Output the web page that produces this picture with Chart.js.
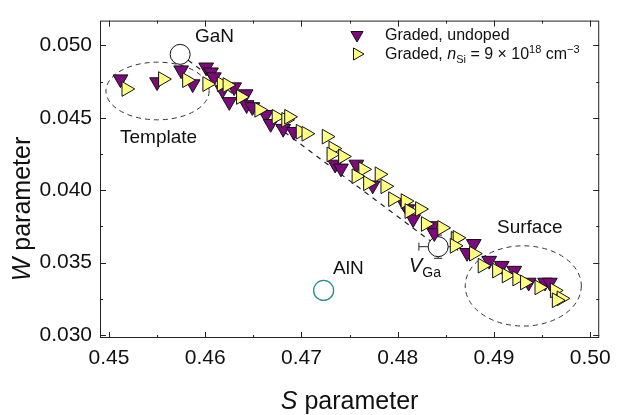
<!DOCTYPE html>
<html>
<head>
<meta charset="utf-8">
<script src="https://cdn.jsdelivr.net/npm/chart.js@4.4.1/dist/chart.umd.min.js"></script>
<style>
  html, body { margin: 0; padding: 0; background: #fff; }
  canvas { display: block; }
</style>
</head>
<body>
<canvas id="chart" width="619" height="415"></canvas>
<script>
// ========== DATA ==========
const undopedS = [0.4512, 0.4550, 0.4575, 0.4587, 0.4601, 0.4606, 0.4609, 0.4618, 0.4630, 0.4625,
  0.4642, 0.4643, 0.4649, 0.4663, 0.4668, 0.4681, 0.4692, 0.4735, 0.4741, 0.4757,
  0.4774, 0.4807, 0.4810, 0.4816, 0.4836, 0.4838, 0.4872, 0.4879, 0.4895, 0.4908,
  0.4921, 0.4936, 0.4953, 0.4958];
const undopedW = [0.04767, 0.04747, 0.04829, 0.04733, 0.04849, 0.04815, 0.04781, 0.04692, 0.04712, 0.04610,
  0.04664, 0.04589, 0.04575, 0.04521, 0.04459, 0.04425, 0.04404, 0.04178, 0.04151, 0.04178,
  0.04034, 0.03904, 0.03870, 0.03801, 0.03753, 0.03705, 0.03568, 0.03630, 0.03514, 0.03479,
  0.03445, 0.03363, 0.03363, 0.03363];

const dopedS = [0.4518, 0.4556, 0.4581, 0.4602, 0.4617, 0.4623, 0.4637, 0.4656, 0.4674, 0.4684,
  0.4687, 0.4699, 0.4705, 0.4726, 0.4733, 0.4731, 0.4743, 0.4764, 0.4757, 0.4769,
  0.4781, 0.4787, 0.4795, 0.4808, 0.4812, 0.4823, 0.4829, 0.4846, 0.4860, 0.4862,
  0.4859, 0.4879, 0.4888, 0.4903, 0.4913, 0.4924, 0.4932, 0.4947, 0.4963, 0.4970,
  0.4965];
const dopedW = [0.04699, 0.04767, 0.04760, 0.04733, 0.04733, 0.04726, 0.04644, 0.04555, 0.04507, 0.04486,
  0.04507, 0.04404, 0.04390, 0.04370, 0.04288, 0.04247, 0.04233, 0.04144, 0.04096, 0.04048,
  0.04110, 0.04027, 0.03938, 0.03925, 0.03856, 0.03870, 0.03767, 0.03740, 0.03664, 0.03671,
  0.03616, 0.03562, 0.03479, 0.03445, 0.03411, 0.03390, 0.03363, 0.03329, 0.03308, 0.03253,
  0.03240];

// reference points: GaN, V_Ga
const refS = [0.4574, 0.4842];
const refW = [0.04938, 0.0361];
const vgaErrS = 0.002;
const vgaErrW = 0.0008;
const alnS = [0.4723];
const alnW = [0.03308];

// dashed ellipses: [centreS, centreW, radiusS, radiusW]
const templateEllipse = [0.45505, 0.04685, 0.00536, 0.00199];
const surfaceEllipse = [0.49304, 0.03339, 0.00603, 0.00277];

const xTicks = [0.45, 0.46, 0.47, 0.48, 0.49, 0.50];
const xMinor = [0.455, 0.465, 0.475, 0.485, 0.495];
const yTicks = [0.030, 0.035, 0.040, 0.045, 0.050];
const yMinor = [0.0325, 0.0375, 0.0425, 0.0475];

const FONT = "'Liberation Sans', Arial, Helvetica, sans-serif";
const PURPLE = '#7d0a7d';
const YELLOW = '#ffff80';

const toXY = (xs, ys) => xs.map((v, i) => ({ x: v, y: ys[i] }));

// draw text made of runs (italic, sub/superscripts)
function drawRuns(ctx, x, y, runs) {
  let cx = x;
  runs.forEach(r => {
    ctx.font = `${r.style || 'normal'} ${r.size}px ${FONT}`;
    ctx.fillText(r.t, cx, y + (r.dy || 0));
    cx += ctx.measureText(r.t).width;
  });
}

function drawTri(ctx, x, y, r, rot, fill) {
  ctx.beginPath();
  let rad = rot * Math.PI / 180;
  for (let i = 0; i < 3; i++) {
    const px = x + Math.sin(rad) * r, py = y - Math.cos(rad) * r;
    i ? ctx.lineTo(px, py) : ctx.moveTo(px, py);
    rad += 2 * Math.PI / 3;
  }
  ctx.closePath();
  ctx.fillStyle = fill;
  ctx.fill();
  ctx.strokeStyle = '#111';
  ctx.lineWidth = 1;
  ctx.stroke();
}

const decor = {
  id: 'decor',
  beforeDatasetsDraw(chart) {
    const { ctx, scales: { x, y } } = chart;
    ctx.save();
    // ellipses
    ctx.strokeStyle = '#333';
    ctx.lineWidth = 1;
    ctx.setLineDash([5, 4]);
    [templateEllipse, surfaceEllipse].forEach(e => {
      const cx = x.getPixelForValue(e[0]), cy = y.getPixelForValue(e[1]);
      const rx = Math.abs(x.getPixelForValue(e[0] + e[2]) - cx);
      const ry = Math.abs(y.getPixelForValue(e[1] + e[3]) - cy);
      ctx.beginPath();
      ctx.ellipse(cx, cy, rx, ry, 0, 0, 2 * Math.PI);
      ctx.stroke();
    });
    ctx.setLineDash([]);
    // V_Ga error bars
    const vx = x.getPixelForValue(refS[1]), vy = y.getPixelForValue(refW[1]);
    const l = x.getPixelForValue(refS[1] - vgaErrS), r = x.getPixelForValue(refS[1] + vgaErrS);
    const t = y.getPixelForValue(refW[1] + vgaErrW), b = y.getPixelForValue(refW[1] - vgaErrW);
    ctx.strokeStyle = '#222';
    ctx.beginPath();
    ctx.moveTo(l, vy); ctx.lineTo(r, vy);
    ctx.moveTo(l, vy - 4); ctx.lineTo(l, vy + 4);
    ctx.moveTo(r, vy - 4); ctx.lineTo(r, vy + 4);
    ctx.moveTo(vx, t); ctx.lineTo(vx, b);
    ctx.moveTo(vx - 4, t); ctx.lineTo(vx + 4, t);
    ctx.moveTo(vx - 4, b); ctx.lineTo(vx + 4, b);
    ctx.stroke();
    ctx.restore();
  },
  afterDraw(chart) {
    const { ctx, chartArea: a, scales: { x, y } } = chart;
    ctx.save();
    // frame and inward ticks on all sides
    ctx.strokeStyle = '#222';
    ctx.lineWidth = 1;
    ctx.strokeRect(a.left + 0.5, a.top + 0.5, a.width - 1, a.height - 1);
    ctx.beginPath();
    const xt = (vals, len) => vals.forEach(v => {
      const px = Math.round(x.getPixelForValue(v)) + 0.5;
      ctx.moveTo(px, a.bottom); ctx.lineTo(px, a.bottom - len);
      ctx.moveTo(px, a.top); ctx.lineTo(px, a.top + len);
    });
    const yt = (vals, len) => vals.forEach(v => {
      const py = Math.round(y.getPixelForValue(v)) + 0.5;
      ctx.moveTo(a.left, py); ctx.lineTo(a.left + len, py);
      ctx.moveTo(a.right, py); ctx.lineTo(a.right - len, py);
    });
    xt(xTicks, 6); xt(xMinor, 3); yt(yTicks, 6); yt(yMinor, 3);
    ctx.stroke();

    ctx.fillStyle = '#111';
    ctx.textBaseline = 'alphabetic';
    // axis titles
    ctx.font = `italic 25px ${FONT}`;
    const sW = ctx.measureText('S').width;
    ctx.font = `25px ${FONT}`;
    const pW = ctx.measureText(' parameter').width;
    const xc = (a.left + a.right) / 2;
    drawRuns(ctx, xc - (sW + pW) / 2, 409, [
      { t: 'S', size: 25, style: 'italic' }, { t: ' parameter', size: 25 }]);
    ctx.save();
    ctx.translate(30, 209);
    ctx.rotate(-Math.PI / 2);
    ctx.font = `italic 25px ${FONT}`;
    const wW = ctx.measureText('W').width;
    drawRuns(ctx, -(wW + pW) / 2, 0, [
      { t: 'W', size: 25, style: 'italic' }, { t: ' parameter', size: 25 }]);
    ctx.restore();

    // annotations
    ctx.font = `19px ${FONT}`;
    ctx.fillText('GaN', 195, 42);
    ctx.fillText('Template', 120, 143);
    ctx.fillText('Surface', 497, 233);
    ctx.fillText('AlN', 333, 274);
    drawRuns(ctx, 409, 272, [
      { t: 'V', size: 20, style: 'italic' }, { t: 'Ga', size: 14, dy: 5 }]);

    // legend
    drawTri(ctx, 357, 35, 7, 180, PURPLE);
    drawTri(ctx, 357, 54, 7, 90, YELLOW);
    ctx.fillStyle = '#111';
    drawRuns(ctx, 385, 40, [{ t: 'Graded, undoped', size: 16 }]);
    drawRuns(ctx, 385, 59, [
      { t: 'Graded, ', size: 16 },
      { t: 'n', size: 16, style: 'italic' },
      { t: 'Si', size: 11, dy: 4 },
      { t: ' = 9 \u00d7 10', size: 16 },
      { t: '18', size: 11, dy: -6 },
      { t: ' cm', size: 16 },
      { t: '\u22123', size: 11, dy: -6 }]);
    ctx.restore();
  }
};

// ========== CHART ==========
new Chart(document.getElementById('chart'), {
  type: 'scatter',
  data: {
    datasets: [
      {
        type: 'line',
        data: toXY(refS, refW),
        borderColor: '#222',
        borderWidth: 1.2,
        borderDash: [5, 5],
        pointRadius: 0,
        fill: false,
        order: 5
      },
      {
        data: toXY(refS, refW),
        pointStyle: 'circle',
        pointRadius: 10,
        backgroundColor: '#fff',
        borderColor: '#111',
        borderWidth: 1,
        order: 4
      },
      {
        data: toXY(alnS, alnW),
        pointStyle: 'circle',
        pointRadius: 10,
        backgroundColor: 'rgba(255,255,255,0)',
        borderColor: '#238f8f',
        borderWidth: 1.3,
        order: 4
      },
      {
        label: 'Graded, undoped',
        data: toXY(undopedS, undopedW),
        pointStyle: 'triangle',
        rotation: 180,
        pointRadius: 8.5,
        backgroundColor: PURPLE,
        borderColor: '#111',
        borderWidth: 1,
        order: 2
      },
      {
        label: 'Graded, doped',
        data: toXY(dopedS, dopedW),
        pointStyle: 'triangle',
        rotation: 90,
        pointRadius: 8.5,
        backgroundColor: YELLOW,
        borderColor: '#111',
        borderWidth: 1,
        order: 1
      }
    ]
  },
  options: {
    responsive: false,
    animation: false,
    layout: { padding: { top: 18, right: 16, left: 0, bottom: 0 } },
    plugins: { legend: { display: false }, tooltip: { enabled: false } },
    scales: {
      x: {
        type: 'linear',
        min: 0.449072,
        max: 0.500928,
        grid: { display: false, drawTicks: false },
        border: { display: false },
        afterBuildTicks: s => { s.ticks = xTicks.map(v => ({ value: v })); },
        afterFit: s => { s.height = 77; },
        ticks: {
          padding: 8,
          color: '#111',
          font: { family: FONT, size: 21 },
          callback: v => v.toFixed(2)
        }
      },
      y: {
        type: 'linear',
        min: 0.029795,
        max: 0.051712,
        grid: { display: false, drawTicks: false },
        border: { display: false },
        afterBuildTicks: s => { s.ticks = yTicks.map(v => ({ value: v })); },
        afterFit: s => { s.width = 100; },
        ticks: {
          padding: 8,
          color: '#111',
          font: { family: FONT, size: 21 },
          callback: v => v.toFixed(3)
        }
      }
    }
  },
  plugins: [decor]
});
</script>
</body>
</html>
